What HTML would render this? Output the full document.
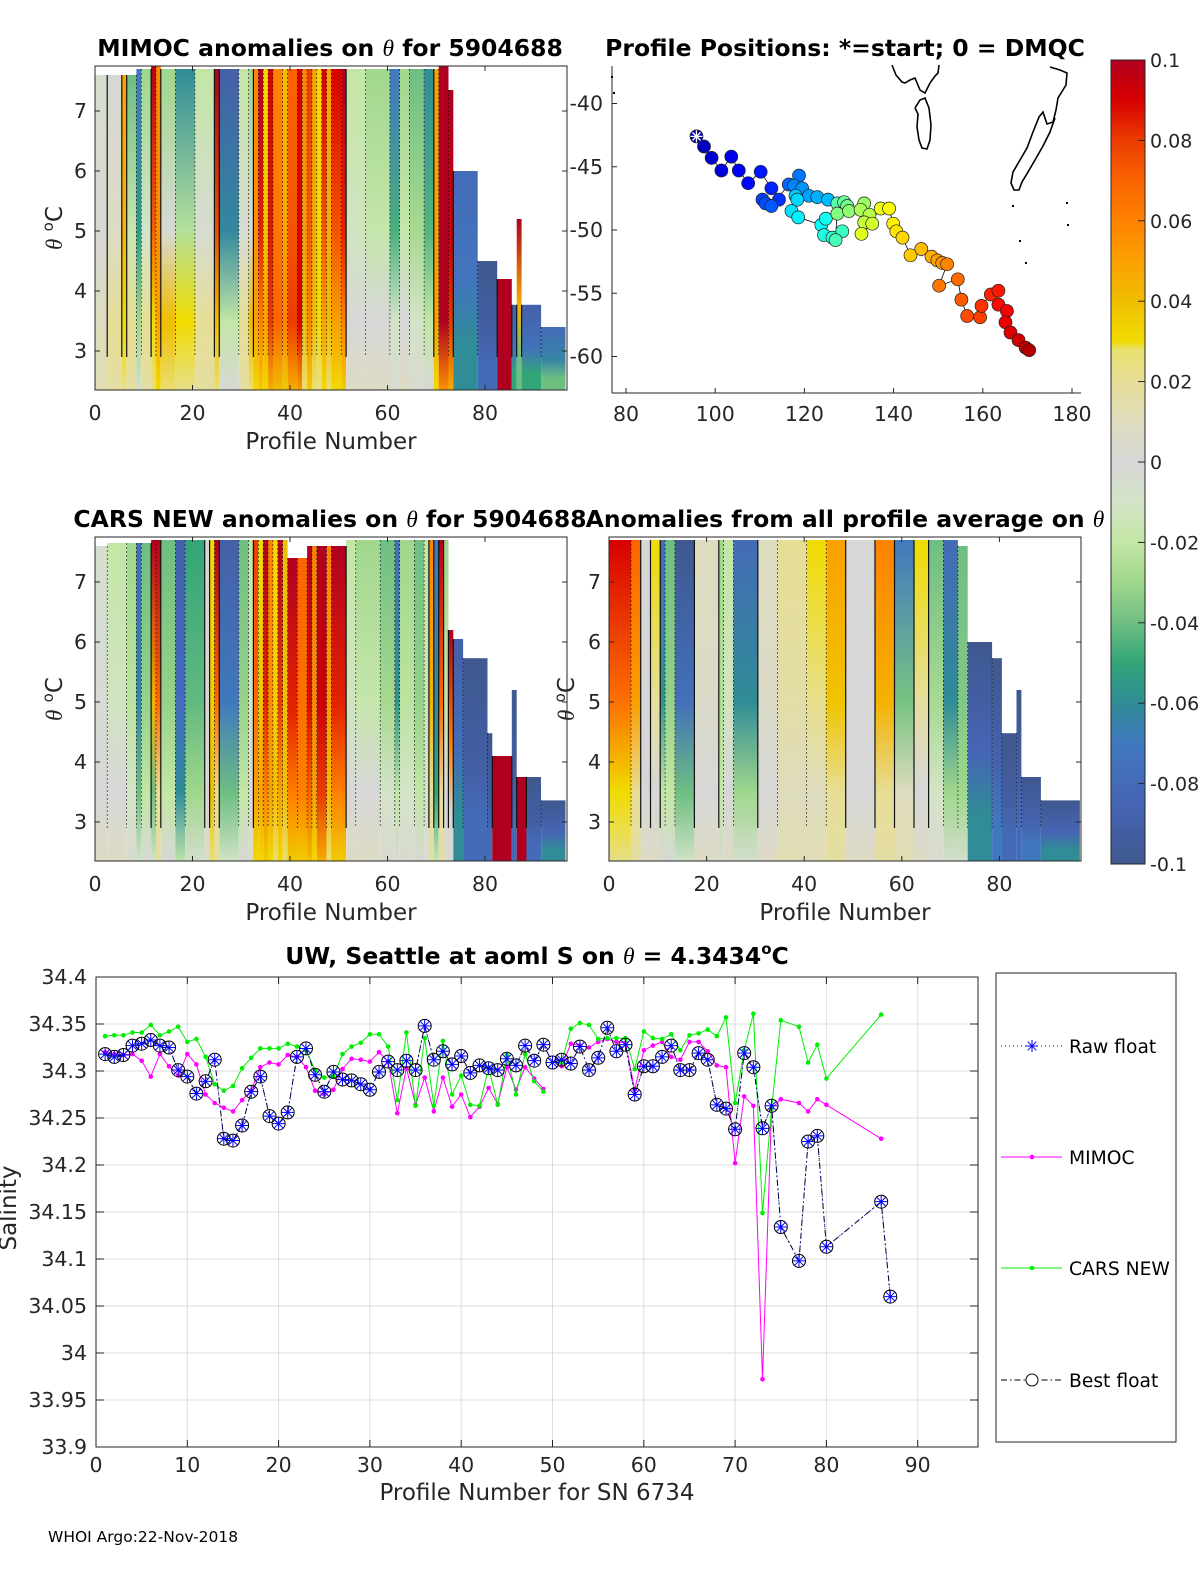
<!DOCTYPE html>
<html><head><meta charset="utf-8"><title>Float 5904688 salinity anomalies</title>
<style>
html,body{margin:0;padding:0;background:#fff;}
svg{display:block;font-family:"DejaVu Sans","Liberation Sans",sans-serif;}
</style></head>
<body>
<svg id="fig" xmlns="http://www.w3.org/2000/svg" width="1200" height="1575" viewBox="0 0 1200 1575">
<defs id="defs"></defs>
</svg>
<script>
// ---------- Bottom chart data ----------
const profiles = [1,2,3,4,5,6,7,8,9,10,11,12,13,14,15,16,17,18,19,20,21,22,23,24,25,26,27,28,29,30,31,32,33,34,35,36,37,38,39,40,41,42,43,44,45,46,47,48,49,50,51,52,53,54,55,56,57,58,59,60,61,62,63,64,65,66,67,68,69,70,71,72,73,74,75,77,78,79,80,86,87];
const bestFloat = [34.318,34.315,34.317,34.327,34.329,34.333,34.327,34.325,34.301,34.294,34.276,34.289,34.312,34.228,34.226,34.242,34.278,34.294,34.252,34.244,34.256,34.315,34.324,34.296,34.278,34.299,34.291,34.290,34.286,34.280,34.299,34.310,34.301,34.311,34.301,34.348,34.312,34.321,34.307,34.316,34.298,34.306,34.303,34.301,34.313,34.306,34.327,34.311,34.328,34.309,34.312,34.308,34.326,34.301,34.314,34.346,34.321,34.328,34.275,34.305,34.305,34.315,34.327,34.301,34.301,34.319,34.312,34.264,34.260,34.238,34.319,34.304,34.239,34.263,34.134,34.098,34.225,34.231,34.113,34.161,34.060];
const rawFloat = [34.318,34.315,34.317,34.327,34.329,34.333,34.327,34.325,34.301,34.294,34.276,34.289,34.312,34.228,34.226,34.242,34.278,34.294,34.252,34.244,34.256,34.315,34.324,34.296,34.278,34.299,34.291,34.290,34.286,34.280,34.299,34.310,34.301,34.311,34.301,34.348,34.312,34.321,34.307,34.316,34.298,34.306,34.303,34.301,34.313,34.306,34.327,34.311,34.328,34.309,34.312,34.308,34.326,34.301,34.314,34.346,34.321,34.328,34.275,34.305,34.305,34.315,34.327,34.301,34.301,34.319,34.312,34.264,34.260,34.238,34.319,34.304,34.239,34.263,34.134,34.098,34.225,34.231,34.113,34.161,34.060];
const mimoc = [34.320,34.318,34.317,34.318,34.311,34.294,34.318,34.305,34.295,34.318,34.307,34.275,34.266,34.261,34.257,34.269,34.279,34.304,34.309,34.307,34.317,34.315,34.304,34.279,34.275,34.280,34.302,34.313,34.312,34.310,34.320,34.310,34.255,34.303,34.264,34.293,34.257,34.293,34.262,34.275,34.251,34.262,34.282,34.265,34.304,34.280,34.304,34.292,34.281,null,34.305,34.329,34.327,34.325,34.331,34.334,34.331,34.330,34.280,34.322,34.327,34.331,34.315,34.312,34.331,34.331,34.321,34.306,34.304,34.202,34.273,34.263,33.972,34.260,34.270,34.266,34.257,34.270,34.264,34.228,null];
const carsNew = [34.337,34.338,34.338,34.341,34.341,34.349,34.338,34.342,34.347,34.331,34.334,34.315,34.286,34.279,34.284,34.303,34.314,34.324,34.324,34.324,34.329,34.326,34.322,34.301,34.293,34.294,34.318,34.326,34.330,34.339,34.339,34.326,34.269,34.341,34.263,34.335,34.263,34.332,34.275,34.295,34.264,34.263,34.304,34.264,34.317,34.275,34.318,34.289,34.278,null,34.309,34.345,34.351,34.349,34.334,34.335,34.335,34.335,34.302,34.342,34.335,34.334,34.339,34.322,34.338,34.340,34.344,34.337,34.357,34.266,34.322,34.361,34.149,34.260,34.354,34.347,34.309,34.328,34.292,34.360,null];
const salTicks = ["34.4","34.35","34.3","34.25","34.2","34.15","34.1","34.05","34","33.95","33.9"];
const profTicks = [0,10,20,30,40,50,60,70,80,90];

// ---------- Heatmap data: [firstProfile, lastProfile, anomalyTop, anomalyBottom, thetaTop] ----------
const mimocSegs = [[0,2,-0.005,0.01,7.6],[3,5,0.0,0.02,7.6],[6,6,0.05,0.03,7.6],[7,8,-0.04,0.02,7.6],[9,9,-0.07,-0.03,7.7],[10,11,-0.03,0.02,7.7],[12,12,0.1,0.03,7.75],[13,13,0.06,0.05,7.75],[14,16,-0.03,0.04,7.7],[17,20,-0.06,0.03,7.7],[21,24,-0.02,0.02,7.7],[25,25,0.1,0.04,7.7],[26,29,-0.09,-0.02,7.7],[30,31,-0.02,0.02,7.7],[32,32,-0.03,0.04,7.7],[33,33,0.06,0.05,7.7],[34,34,0.1,0.06,7.7],[35,35,0.03,0.05,7.7],[36,36,0.09,0.08,7.7],[37,38,0.06,0.07,7.7],[39,39,0.04,0.06,7.7],[40,41,0.07,0.08,7.7],[42,42,0.09,0.09,7.7],[43,43,0.06,0.04,7.7],[44,44,0.08,0.06,7.7],[45,45,0.05,0.04,7.7],[46,46,0.03,0.03,7.7],[47,47,0.09,0.05,7.7],[48,48,0.05,0.04,7.7],[49,50,0.09,0.05,7.7],[51,51,0.1,0.06,7.7],[52,55,-0.02,0.0,7.7],[56,60,-0.03,0.0,7.7],[61,62,-0.07,-0.01,7.7],[63,64,-0.03,0.0,7.7],[65,67,-0.04,-0.01,7.7],[68,69,-0.06,-0.02,7.7],[70,70,0.05,0.05,7.7],[71,72,0.1,0.1,7.75],[73,73,0.1,0.08,7.35],[74,78,-0.08,-0.06,6.0],[79,82,-0.1,-0.08,4.5],[83,85,0.1,0.1,4.2],[86,86,-0.09,-0.05,3.77],[87,87,0.1,-0.04,5.2],[88,91,-0.09,-0.05,3.77],[92,96,-0.08,-0.04,3.4]];
const carsSegs = [[0,2,-0.005,0.0,7.6],[3,6,-0.02,0.0,7.65],[7,8,-0.03,-0.01,7.65],[9,9,-0.08,-0.04,7.65],[10,11,-0.04,-0.02,7.65],[12,12,0.1,-0.04,7.7],[13,13,0.1,0.02,7.7],[14,16,-0.04,-0.02,7.7],[17,18,-0.09,-0.06,7.7],[19,22,-0.05,-0.03,7.7],[23,23,0.0,0.0,7.7],[24,24,0.03,0.04,7.7],[25,25,0.1,0.02,7.7],[26,29,-0.09,-0.04,7.7],[30,31,-0.04,-0.02,7.7],[32,32,-0.02,0.0,7.7],[33,33,0.08,0.05,7.7],[34,34,0.03,0.05,7.7],[35,35,0.1,0.06,7.7],[36,36,0.06,0.05,7.7],[37,37,0.03,0.04,7.7],[38,38,0.1,0.05,7.7],[39,39,0.04,0.04,7.7],[40,41,0.1,0.06,7.4],[42,43,0.07,0.06,7.4],[44,44,0.1,0.07,7.6],[45,45,0.06,0.05,7.6],[46,47,0.1,0.08,7.6],[48,48,0.06,0.04,7.6],[49,51,0.1,0.06,7.6],[52,53,-0.02,0.0,7.7],[54,58,-0.03,0.0,7.7],[59,61,-0.04,-0.01,7.7],[62,62,-0.08,-0.02,7.7],[63,65,-0.03,-0.01,7.7],[66,67,-0.04,-0.02,7.7],[68,68,-0.02,-0.01,7.7],[69,69,0.06,0.02,7.7],[70,70,-0.07,-0.05,7.7],[71,71,0.1,0.02,7.7],[72,72,-0.03,0.0,7.7],[73,73,0.1,0.0,6.2],[74,75,-0.09,-0.06,6.05],[76,80,-0.1,-0.08,5.73],[81,81,-0.1,-0.08,4.48],[82,85,0.1,0.1,4.1],[86,86,-0.1,-0.08,5.2],[87,88,0.1,0.1,3.75],[89,91,-0.1,-0.08,3.75],[92,96,-0.1,-0.06,3.36]];
const avgSegs = [[0,4,0.09,0.03,7.7],[5,6,0.07,0.02,7.7],[7,8,0.0,0.0,7.7],[9,10,0.03,0.0,7.7],[11,11,-0.08,-0.02,7.7],[12,13,-0.04,-0.02,7.7],[14,17,-0.1,-0.04,7.7],[18,22,0.01,0.0,7.7],[23,23,-0.03,-0.02,7.7],[24,25,-0.02,0.0,7.7],[26,30,-0.08,-0.03,7.7],[31,34,0.01,0.0,7.7],[35,40,0.02,0.01,7.7],[41,44,0.03,0.01,7.7],[45,48,0.05,0.02,7.7],[49,54,0.0,0.0,7.7],[55,58,0.06,0.02,7.7],[59,62,-0.07,0.01,7.7],[63,65,0.03,0.0,7.7],[66,68,-0.04,-0.01,7.7],[69,71,-0.08,-0.03,7.7],[72,73,-0.04,-0.03,7.6],[74,78,-0.1,-0.06,6.0],[79,80,-0.1,-0.07,5.73],[81,83,-0.1,-0.08,4.48],[84,84,-0.1,-0.08,5.2],[85,88,-0.1,-0.07,3.75],[89,96,-0.1,-0.06,3.36]];
const thetaTicks = [3,4,5,6,7];
const heatProfTicks = [0,20,40,60,80];

// ---------- Map data ----------
const trackLon = [95.8,97.5,99.2,101.4,103.6,105.3,107.4,110.2,112.6,114.3,110.6,111.3,112.6,116.5,118.8,117.7,119.5,121.0,122.9,125.3,118.0,118.4,117.1,118.6,123.8,124.8,124.4,126.3,128.5,127.0,127.4,128.9,129.6,127.4,130.0,133.4,132.6,134.6,133.4,135.2,132.8,137.1,139.0,139.9,140.6,142.0,143.8,146.2,148.5,149.8,150.9,152.0,150.2,154.4,155.2,156.5,159.4,159.7,161.8,163.5,163.5,165.4,165.1,166.2,168.0,169.6,170.4];
const trackLat = [-42.6,-43.4,-44.3,-45.3,-44.2,-45.3,-46.3,-45.4,-46.7,-47.6,-47.6,-47.9,-48.1,-46.4,-45.7,-46.5,-46.7,-47.3,-47.4,-47.6,-47.3,-47.6,-48.5,-49.0,-49.6,-49.1,-50.4,-50.6,-50.1,-50.8,-47.9,-47.8,-48.1,-48.7,-48.5,-47.9,-48.4,-48.8,-49.4,-49.5,-50.3,-48.3,-48.3,-49.5,-50.1,-50.6,-52.0,-51.5,-52.1,-52.4,-52.6,-52.7,-54.4,-53.9,-55.5,-56.8,-56.9,-56.0,-55.1,-54.8,-55.9,-56.4,-57.3,-58.1,-58.7,-59.3,-59.5];
const lonTicks = [80,100,120,140,160,180];
const latTicks = [-40,-45,-50,-55,-60];
const cbTicks = [0.1,0.08,0.06,0.04,0.02,0,-0.02,-0.04,-0.06,-0.08,-0.1];

const NS = "http://www.w3.org/2000/svg";
const svg = document.getElementById('fig');
const defs = document.getElementById('defs');
function mk(tag, attrs, parent){
  const e = document.createElementNS(NS, tag);
  for (const k in attrs) e.setAttribute(k, attrs[k]);
  (parent || svg).appendChild(e);
  return e;
}
function txt(s, attrs, parent){ const t = mk('text', attrs, parent); t.textContent = s; return t; }

const FT = 20.5, FTITLE = 23.5, FAX = 23;

const cmStops = [[-0.1,[63,88,143]],[-0.085,[70,100,180]],[-0.07,[64,120,190]],[-0.06,[48,140,150]],[-0.05,[50,165,120]],[-0.04,[110,190,130]],[-0.03,[160,215,140]],[-0.02,[195,230,165]],[-0.01,[212,228,200]],[0,[215,215,215]],[0.01,[222,220,190]],[0.02,[230,222,150]],[0.028,[232,224,110]],[0.03,[240,220,0]],[0.04,[240,190,0]],[0.05,[250,160,0]],[0.06,[255,130,0]],[0.07,[250,100,0]],[0.08,[235,60,0]],[0.09,[215,0,0]],[0.1,[176,0,32]]];
function cmap(v){
  v = Math.max(-0.1, Math.min(0.1, v));
  for (let i=0;i<cmStops.length-1;i++){
    const a = cmStops[i], b = cmStops[i+1];
    if (v <= b[0]){
      const t = (v-a[0])/(b[0]-a[0]);
      const c = a[1].map((x,j)=>Math.round(x+(b[1][j]-x)*t));
      return 'rgb('+c.join(',')+')';
    }
  }
  return 'rgb(176,0,32)';
}
function jet(t){
  const r = Math.max(0,Math.min(1,1.5-Math.abs(4*t-3)));
  const g = Math.max(0,Math.min(1,1.5-Math.abs(4*t-2)));
  const b = Math.max(0,Math.min(1,1.5-Math.abs(4*t-1)));
  return 'rgb('+Math.round(r*255)+','+Math.round(g*255)+','+Math.round(b*255)+')';
}

let gradN = 0;
function heatPanel(name, ax, segs, title){
  const g = mk('g', {});
  
  
  const xs = p => ax.left + p*ax.sx;
  const ys = th => ax.top + (7.75 - th)*60;
  const cid = 'clip'+name;
  const cp = mk('clipPath', {id: cid}, defs);
  mk('rect', {x: ax.left, y: ax.top, width: ax.w, height: ax.h}, cp);
  const cells = mk('g', {'clip-path': 'url(#'+cid+')'}, g);
  segs.forEach((s, i) => {
    const id = 'hg' + (gradN++);
    const lg = mk('linearGradient', {id: id, x1: 0, y1: 0, x2: 0, y2: 1}, defs);
    const deep = s[4] < 6.5;
    mk('stop', {offset: '0', 'stop-color': cmap(s[2])}, lg);
    mk('stop', {offset: '0.5', 'stop-color': cmap((s[2]*0.6+s[3]*0.4))}, lg);
    mk('stop', {offset: '0.78', 'stop-color': cmap(s[3])}, lg);
    mk('stop', {offset: '1', 'stop-color': cmap(deep ? s[3] : s[3]*0.45+0.008)}, lg);
    const x0 = xs(s[0]-0.5), x1 = xs(s[1]+0.5);
    const r = mk('rect', {x: x0.toFixed(1), y: ys(s[4]).toFixed(1), width: (x1-x0).toFixed(1), height: (ys(2.3)-ys(s[4])).toFixed(1), fill: 'url(#'+id+')'}, cells);
    
    
    if (i > 0){
      const strong = Math.sign(s[2]) !== Math.sign(segs[i-1][2]);
      const c = mk('line', {x1: x0.toFixed(1), x2: x0.toFixed(1), y1: ys(Math.min(s[4], segs[i-1][4])).toFixed(1), y2: ys(2.9).toFixed(1), stroke: '#111', 'stroke-width': strong ? 1.2 : 0.6, 'stroke-dasharray': strong ? 'none' : '2 2'}, cells);
      
      
    }
  });
  const box = mk('rect', {x: ax.left, y: ax.top, width: ax.w, height: ax.h, fill: 'none', stroke: '#262626', 'stroke-width': 1}, g);
  
  
  thetaTicks.forEach(t => {
    const y = ys(t);
    mk('line', {x1: ax.left, x2: ax.left+5, y1: y, y2: y, stroke: '#262626'}, g);
    mk('line', {x1: ax.left+ax.w, x2: ax.left+ax.w-5, y1: y, y2: y, stroke: '#262626'}, g);
    const l = txt(String(t), {x: ax.left-8, y: y+7, 'font-size': FT, 'text-anchor': 'end', fill: '#262626'}, g);
    
    
  });
  heatProfTicks.forEach(p => {
    const x = xs(p);
    mk('line', {x1: x, x2: x, y1: ax.top+ax.h, y2: ax.top+ax.h-5, stroke: '#262626'}, g);
    mk('line', {x1: x, x2: x, y1: ax.top, y2: ax.top+5, stroke: '#262626'}, g);
    const l = txt(String(p), {x: x, y: ax.top+ax.h+30, 'font-size': FT, 'text-anchor': 'middle', fill: '#262626'}, g);
    
    
  });
  const xl = txt('Profile Number', {x: ax.left+ax.w/2, y: ax.top+ax.h+59, 'font-size': FAX, 'text-anchor': 'middle', fill: '#262626'}, g);
  
  
  const yl = mk('text', {transform: 'translate('+ax.ylx+','+(ax.top+ax.h/2)+') rotate(-90)', 'font-size': FAX, 'text-anchor': 'middle', fill: '#262626'}, g);
  yl.innerHTML = '<tspan font-style="italic" font-family="Liberation Serif, serif">θ</tspan> <tspan font-size="15" dy="-9">o</tspan><tspan dy="9">C</tspan>';
  
  
  const tt = mk('text', {x: ax.left+ax.w/2+ax.toff, y: ax.top-10, 'font-size': FTITLE, 'font-weight': 'bold', 'text-anchor': 'middle', fill: '#000'}, g);
  tt.innerHTML = title;
  
  
}

const TH = '<tspan font-style="italic" font-weight="normal" font-family="Liberation Serif, serif">θ</tspan>';
heatPanel('mimoc-anomaly-panel', {left: 95, top: 66, w: 472, h: 324, sx: 4.875, ylx: 62, toff: -1}, mimocSegs, 'MIMOC anomalies on '+TH+'  for 5904688');
heatPanel('cars-anomaly-panel', {left: 95, top: 537, w: 472, h: 324, sx: 4.875, ylx: 62, toff: -1}, carsSegs, 'CARS NEW anomalies on '+TH+' for 5904688');
heatPanel('average-anomaly-panel', {left: 609, top: 537, w: 472, h: 324, sx: 4.88, ylx: 574, toff: 0}, avgSegs, 'Anomalies from all profile average on '+TH);

// ---------- Map ----------
(function(){
  const g = mk('g', {});
  
  
  const L = 612, T = 66, R = 1081, B = 393;
  const xs = lon => 626 + (lon-80)*4.46;
  const ys = lat => 103.5 + (-40-lat)*12.65;
  mk('line', {x1: L, y1: T, x2: L, y2: B, stroke: '#262626'}, g);
  mk('line', {x1: L, y1: B, x2: R, y2: B, stroke: '#262626'}, g);
  const coast = [
    '892,65 896,75 902,82 905,83 910,80 915,78 920,90 925,93 930,83 935,76 938,73 939,65',
    '915,108 918,114 917,127 919,140 922,148 927,149 930,140 931,125 929,108 925,98 920,100 915,108',
    '1050,67 1060,70 1067,73 1066,85 1058,98 1056,110 1053,122 1047,124 1043,112 1039,117 1033,132 1027,148 1020,160 1013,172 1011,183 1014,190 1019,190 1022,182 1028,172 1035,160 1043,146 1050,132 1055,118'
  ];
  coast.forEach(pts => {
    const p = mk('polyline', {points: pts, fill: 'none', stroke: '#000', 'stroke-width': 1.6}, g);
    
    
  });
  [[611,76],[613,92]].forEach(d => mk('rect', {x: d[0], y: d[1], width: 2, height: 2, fill: '#000'}, g));
  [[1012,205],[1019,240],[1066,202],[1067,224],[1025,262]].forEach(d => mk('rect', {x: d[0], y: d[1], width: 2, height: 2, fill: '#000'}, g));
  const path = trackLon.map((lo,i) => xs(lo).toFixed(1)+','+ys(trackLat[i]).toFixed(1)).join(' ');
  const tr = mk('polyline', {points: path, fill: 'none', stroke: '#000', 'stroke-width': 0.8}, g);
  
  
  const n = trackLon.length;
  trackLon.forEach((lo, i) => {
    const c = mk('circle', {cx: xs(lo).toFixed(1), cy: ys(trackLat[i]).toFixed(1), r: 6.5, fill: jet(0.05 + 0.9*i/(n-1)), stroke: '#222', 'stroke-width': 0.7}, g);
    
    
  });
  const sx = xs(trackLon[0]), sy = ys(trackLat[0]);
  const st = mk('g', {stroke: '#fff', 'stroke-width': 1.3}, g);
  
  
  mk('line', {x1: sx-6, y1: sy, x2: sx+6, y2: sy}, st);
  mk('line', {x1: sx, y1: sy-6, x2: sx, y2: sy+6}, st);
  mk('line', {x1: sx-4, y1: sy-4, x2: sx+4, y2: sy+4}, st);
  mk('line', {x1: sx-4, y1: sy+4, x2: sx+4, y2: sy-4}, st);
  lonTicks.forEach(lo => {
    const x = xs(lo);
    mk('line', {x1: x, x2: x, y1: B, y2: B-5, stroke: '#262626'}, g);
    const l = txt(String(lo), {x: x, y: 421, 'font-size': FT, 'text-anchor': 'middle', fill: '#262626'}, g);
    
    
  });
  latTicks.forEach(la => {
    const y = ys(la);
    mk('line', {x1: L, x2: L+5, y1: y, y2: y, stroke: '#262626'}, g);
    const l = txt(String(la), {x: 603, y: y+7, 'font-size': FT, 'text-anchor': 'end', fill: '#262626'}, g);
    
    
  });
  const t = txt('Profile Positions: *=start; 0 = DMQC', {x: 845, y: 56, 'font-size': FTITLE, 'font-weight': 'bold', 'text-anchor': 'middle', fill: '#000'}, g);
  
  
})();

// ---------- Colorbar ----------
(function(){
  const g = mk('g', {});
  
  
  const T = 60, B = 864, L = 1111, W = 34;
  const lg = mk('linearGradient', {id: 'cbgrad', x1: 0, y1: 1, x2: 0, y2: 0}, defs);
  cmStops.forEach(s => mk('stop', {offset: ((s[0]+0.1)/0.2).toFixed(3), 'stop-color': cmap(s[0])}, lg));
  mk('rect', {x: L, y: T, width: W, height: B-T, fill: 'url(#cbgrad)', stroke: '#262626', 'stroke-width': 1}, g);
  cbTicks.forEach(v => {
    const y = T + (0.1 - v)/0.2*(B-T);
    mk('line', {x1: L+W, x2: L+W-7, y1: y, y2: y, stroke: '#262626'}, g);
    const l = txt(String(v), {x: L+W+5, y: y+7, 'font-size': 19, fill: '#262626'}, g);
    
    
  });
})();

// ---------- Bottom salinity chart ----------
(function(){
  const g = mk('g', {});
  
  
  const L = 96, R = 978, T = 977, B = 1447;
  const xs = p => L + p*9.13;
  const ys = s => T + (34.4 - s)*940;
  mk('rect', {x: L, y: T, width: R-L, height: B-T, fill: '#fff'}, g);
  profTicks.forEach(p => {
    const x = xs(p);
    const gl = mk('line', {x1: x, x2: x, y1: T, y2: B, stroke: '#dcdcdc', 'stroke-width': 1}, g);
    
    
    mk('line', {x1: x, x2: x, y1: B, y2: B-7, stroke: '#262626'}, g);
    mk('line', {x1: x, x2: x, y1: T, y2: T+7, stroke: '#262626'}, g);
    const l = txt(String(p), {x: x, y: B+25, 'font-size': FT, 'text-anchor': 'middle', fill: '#262626'}, g);
    
    
  });
  salTicks.forEach(s => {
    const y = ys(parseFloat(s));
    const gl = mk('line', {x1: L, x2: R, y1: y, y2: y, stroke: '#dcdcdc', 'stroke-width': 1}, g);
    
    
    mk('line', {x1: L, x2: L+8, y1: y, y2: y, stroke: '#262626'}, g);
    mk('line', {x1: R, x2: R-8, y1: y, y2: y, stroke: '#262626'}, g);
    const l = txt(s, {x: 87, y: y+7, 'font-size': FT, 'text-anchor': 'end', fill: '#262626'}, g);
    
    
  });
  function linePath(vals){
    let d = '', pen = false;
    vals.forEach((v,i) => {
      if (v === null){ pen = false; return; }
      d += (pen ? 'L' : 'M') + xs(profiles[i]).toFixed(1) + ' ' + ys(v).toFixed(1);
      pen = true;
    });
    return d;
  }
  const mL = mk('path', {d: linePath(mimoc), fill: 'none', stroke: '#ff00ff', 'stroke-width': 1}, g);
  
  
  mimoc.forEach((v,i) => { if (v===null) return;
    const c = mk('circle', {cx: xs(profiles[i]).toFixed(1), cy: ys(v).toFixed(1), r: 2.3, fill: '#ff00ff'}, g);
    
    
  });
  const cL = mk('path', {d: linePath(carsNew), fill: 'none', stroke: '#00ee00', 'stroke-width': 1}, g);
  
  
  carsNew.forEach((v,i) => { if (v===null) return;
    const c = mk('circle', {cx: xs(profiles[i]).toFixed(1), cy: ys(v).toFixed(1), r: 2.3, fill: '#00ee00'}, g);
    
    
  });
  const bL = mk('path', {d: linePath(bestFloat), fill: 'none', stroke: '#000', 'stroke-width': 1, 'stroke-dasharray': '6 3 1.5 3'}, g);
  
  
  const rL = mk('path', {d: linePath(rawFloat), fill: 'none', stroke: '#0000ff', 'stroke-width': 1, 'stroke-dasharray': '1 3'}, g);
  
  
  bestFloat.forEach((v,i) => {
    const c = mk('circle', {cx: xs(profiles[i]).toFixed(1), cy: ys(v).toFixed(1), r: 6.5, fill: 'none', stroke: '#000', 'stroke-width': 1}, g);
    
    
  });
  rawFloat.forEach((v,i) => {
    const x = xs(profiles[i]), y = ys(v);
    const s = mk('path', {d: 'M'+(x-6)+' '+y+'H'+(x+6)+'M'+x+' '+(y-6)+'V'+(y+6)+'M'+(x-4.3)+' '+(y-4.3)+'L'+(x+4.3)+' '+(y+4.3)+'M'+(x-4.3)+' '+(y+4.3)+'L'+(x+4.3)+' '+(y-4.3), stroke: '#0000ff', 'stroke-width': 1, fill: 'none'}, g);
    
    
  });
  mk('rect', {x: L, y: T, width: R-L, height: B-T, fill: 'none', stroke: '#262626', 'stroke-width': 1}, g);
  const t = mk('text', {x: 537, y: 964, 'font-size': FTITLE, 'font-weight': 'bold', 'text-anchor': 'middle', fill: '#000'}, g);
  t.innerHTML = 'UW, Seattle at aoml S on ' + TH + ' = 4.3434<tspan font-size="15" dy="-10">o</tspan><tspan dy="10">C</tspan>';
  
  
  const xt = txt('Profile Number for SN 6734', {x: 537, y: 1500, 'font-size': FAX, 'text-anchor': 'middle', fill: '#262626'}, g);
  
  
  const yt = txt('Salinity', {transform: 'translate(16,1208) rotate(-90)', 'font-size': FAX, 'text-anchor': 'middle', fill: '#262626'}, g);
  
  

  const lg = mk('g', {});
  
  
  mk('rect', {x: 996, y: 973, width: 180, height: 469, fill: '#fff', stroke: '#262626', 'stroke-width': 1}, lg);
  const e1 = mk('g', {}, lg);
  
  
  mk('line', {x1: 1001, x2: 1062, y1: 1046, y2: 1046, stroke: '#0000ff', 'stroke-dasharray': '1 3'}, e1);
  mk('path', {d: 'M1026 1046H1038M1032 1040V1052M1027.7 1041.7L1036.3 1050.3M1027.7 1050.3L1036.3 1041.7', stroke: '#0000ff', fill: 'none'}, e1);
  txt('Raw float', {x: 1069, y: 1053, 'font-size': 18.7, fill: '#000'}, e1);
  const e2 = mk('g', {}, lg);
  
  
  mk('line', {x1: 1001, x2: 1062, y1: 1157, y2: 1157, stroke: '#ff00ff'}, e2);
  mk('circle', {cx: 1032, cy: 1157, r: 2.3, fill: '#ff00ff'}, e2);
  txt('MIMOC', {x: 1069, y: 1164, 'font-size': 18.7, fill: '#000'}, e2);
  const e3 = mk('g', {}, lg);
  
  
  mk('line', {x1: 1001, x2: 1062, y1: 1268, y2: 1268, stroke: '#00ee00'}, e3);
  mk('circle', {cx: 1032, cy: 1268, r: 2.3, fill: '#00ee00'}, e3);
  txt('CARS NEW', {x: 1069, y: 1275, 'font-size': 18.7, fill: '#000'}, e3);
  const e4 = mk('g', {}, lg);
  
  
  mk('line', {x1: 1001, x2: 1062, y1: 1380, y2: 1380, stroke: '#000', 'stroke-dasharray': '6 3 1.5 3'}, e4);
  mk('circle', {cx: 1032, cy: 1380, r: 6, fill: '#fff', stroke: '#000'}, e4);
  txt('Best float', {x: 1069, y: 1387, 'font-size': 18.7, fill: '#000'}, e4);
})();

const foot = txt('WHOI Argo:22-Nov-2018', {x: 48, y: 1542, 'font-size': 15.5, fill: '#000'});


</script>
</body></html>
